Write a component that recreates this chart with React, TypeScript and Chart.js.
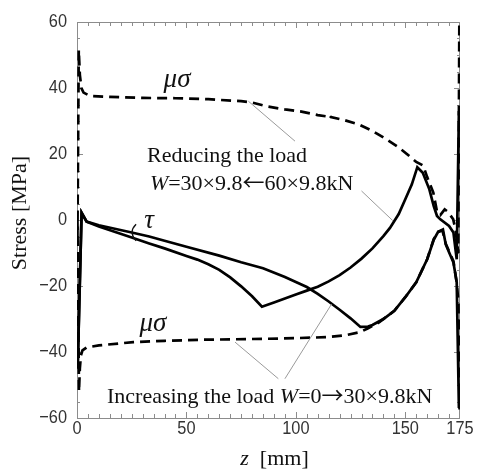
import React, { useEffect, useRef } from "react";
import { Chart, registerables } from "chart.js";

Chart.register(...registerables);

// ---------- data ----------
const xTickValues = [0, 50, 100, 150, 175];
const yTickValues = [-60, -40, -20, 0, 20, 40, 60];

// tau, reducing the load W = 30x9.8 <- 60x9.8 kN
const zTauReduce = [0.3, 2.1, 4.4, 10, 25, 33, 40, 50, 55, 60, 65, 70, 75, 80, 84.5, 90, 95, 100, 105, 110, 115, 120, 125, 130, 135, 140, 143, 147, 150, 153, 155.5, 158, 161, 163, 164.5, 166, 170, 172, 173.5, 174.5];
const tauReduce = [-45, 2.2, -0.5, -2, -5.3, -7.1, -8.6, -10.9, -12.0, -13.4, -15.1, -17.4, -20.1, -23.1, -26.3, -25.0, -23.8, -22.6, -21.4, -20.2, -18.6, -16.7, -14.4, -11.7, -8.6, -4.9, -2.4, 1.8, 6.3, 10.8, 16.0, 14.3, 9.3, 4.2, 1.2, 0.2, -1.8, -3.8, -11.9, 33];

// tau, increasing the load W = 0 -> 30x9.8 kN
const zTauIncrease = [0.3, 2.1, 4.4, 10, 25, 33, 40, 50, 65, 75, 85, 95, 100, 105, 110, 115, 120, 125, 129.5, 133, 135, 140, 145, 150, 155, 160, 163, 165, 167.2, 168.5, 170, 172, 173.5, 174.5];
const tauIncrease = [-45, 2.2, -0.5, -1.6, -3.8, -5.0, -6.3, -8.1, -10.8, -12.8, -14.6, -17.3, -18.8, -20.3, -22.4, -24.7, -27.2, -29.8, -32.4, -32.3, -31.8, -30.0, -27.5, -23.4, -18.9, -11.9, -6.0, -3.6, -2.9, -7.4, -9.8, -12.9, -18.9, -57];

// mu*sigma, upper branch
const zMuUpper = [0.2, 0.8, 1.3, 2, 3, 6, 15, 30, 45, 60, 75, 80, 87, 95, 102, 110, 114, 115, 116, 122, 129, 135, 141.5, 147, 152, 155, 158.2, 160, 162.8, 164.6, 166, 168, 169.5, 171.9, 173, 174.2, 174.7];
const muUpper = [-5, 51.5, 44, 40, 38.6, 37.6, 37.3, 37.0, 36.9, 36.6, 36.0, 35.6, 34.4, 33.5, 32.9, 31.8, 31.4, 32.0, 31.2, 30.3, 28.9, 27.0, 24.4, 22.0, 19.3, 17.6, 16.5, 13.0, 8.3, 2.2, 1.5, 3.2, 2.5, 0.2, -3, -10, 60];

// mu*sigma, lower branch
const zMuLower = [0.2, 0.9, 1.3, 1.8, 2.5, 4.4, 10, 25.7, 40, 56, 86.6, 100, 114, 122, 129.3, 133, 138, 145, 150, 155, 160, 163, 165, 167, 168.5, 170, 172, 173.5, 174.3, 174.8];
const muLower = [0, -52, -45, -41, -39.5, -38.6, -38, -37, -36.6, -36.3, -36, -35.8, -35.5, -35, -34, -32.8, -31, -27.5, -23.4, -18.9, -11.9, -5.8, -3.6, -3.2, -7.2, -9.5, -12.5, -19, -25, -58];

const toPts = (xs: number[], ys: number[]) => xs.map((x, i) => ({ x, y: ys[i] }));

type Seg = [string, "n" | "i" | "a"];

const SERIF = "'Liberation Serif', 'Times New Roman', serif";
const ARROW = "'Noto Sans CJK JP', 'DejaVu Sans', sans-serif";
const SANS = "'Liberation Sans', Arial, sans-serif";

function segFont(style: string, size: number) {
  if (style === "i") return `italic ${size}px ${SERIF}`;
  if (style === "a") return `${size}px ${ARROW}`;
  return `${size}px ${SERIF}`;
}
function drawRich(ctx: CanvasRenderingContext2D, segs: Seg[], x: number, y: number, size: number) {
  let cx = x;
  for (const [t, st] of segs) {
    ctx.font = segFont(st, size);
    ctx.fillText(t, cx, y);
    cx += ctx.measureText(t).width;
  }
}
function richWidth(ctx: CanvasRenderingContext2D, segs: Seg[], size: number) {
  let w = 0;
  for (const [t, st] of segs) {
    ctx.font = segFont(st, size);
    w += ctx.measureText(t).width;
  }
  return w;
}
const fmt = (v: number) => (v < 0 ? "−" + Math.abs(v) : String(v));

const decorPlugin = {
  id: "decor",
  beforeDatasetsDraw(chart: any) {
    const { ctx, chartArea: a, scales } = chart;
    const xs = scales.x, ys = scales.y;
    ctx.save();
    ctx.strokeStyle = "#8c8c8c";
    ctx.lineWidth = 1;
    ctx.strokeRect(a.left + 0.5, a.top + 0.5, a.right - a.left - 1, a.bottom - a.top);
    ctx.beginPath();
    for (let v = 5; v < 175; v += 5) {
      const px = Math.round(xs.getPixelForValue(v)) + 0.5;
      const len = v % 50 === 0 ? 6 : 4;
      ctx.moveTo(px, a.top); ctx.lineTo(px, a.top + len);
      ctx.moveTo(px, a.bottom); ctx.lineTo(px, a.bottom - len);
    }
    for (let v = -55; v < 60; v += 5) {
      const py = Math.round(ys.getPixelForValue(v)) + 0.5;
      const len = v % 20 === 0 ? 6 : 3;
      ctx.moveTo(a.left, py); ctx.lineTo(a.left + len, py);
      ctx.moveTo(a.right, py); ctx.lineTo(a.right - len, py);
    }
    ctx.stroke();
    ctx.restore();

    // tick labels (condensed sans)
    ctx.save();
    ctx.fillStyle = "#333";
    ctx.font = `19px ${SANS}`;
    ctx.textBaseline = "middle";
    for (const v of yTickValues) {
      ctx.save();
      ctx.translate(a.left - 10, ys.getPixelForValue(v));
      ctx.scale(0.86, 1);
      ctx.textAlign = "right";
      ctx.fillText(fmt(v), 0, 0);
      ctx.restore();
    }
    for (const v of xTickValues) {
      ctx.save();
      ctx.translate(xs.getPixelForValue(v), a.bottom + 11);
      ctx.scale(0.86, 1);
      ctx.textAlign = "center";
      ctx.fillText(fmt(v), 0, 0);
      ctx.restore();
    }
    ctx.restore();
  },
  afterDatasetsDraw(chart: any) {
    const { ctx, chartArea: a, scales } = chart;
    const X = (v: number) => scales.x.getPixelForValue(v);
    const Y = (v: number) => scales.y.getPixelForValue(v);
    ctx.save();
    // leader lines
    ctx.strokeStyle = "#9a9a9a";
    ctx.lineWidth = 1;
    ctx.beginPath();
    ctx.moveTo(X(78.3), Y(36)); ctx.lineTo(X(99.6), Y(23.9));
    ctx.moveTo(X(130), Y(8.8)); ctx.lineTo(X(144.3), Y(-0.2));
    ctx.moveTo(X(72.2), Y(-37)); ctx.lineTo(X(92), Y(-48.1));
    ctx.moveTo(X(95), Y(-48.1)); ctx.lineTo(X(116.3), Y(-25.5));
    ctx.stroke();
    // small arc marking tau
    ctx.strokeStyle = "#111";
    ctx.lineWidth = 1.3;
    ctx.beginPath();
    ctx.moveTo(X(27), Y(-1.3));
    ctx.quadraticCurveTo(X(23.3), Y(-3.7), X(27), Y(-6.3));
    ctx.stroke();

    ctx.fillStyle = "#111";
    // greek labels
    ctx.font = `italic 27px ${SERIF}`;
    ctx.textAlign = "center";
    ctx.textBaseline = "middle";
    ctx.fillText("μσ", X(45.7), Y(42.5));
    ctx.fillText("μσ", X(34.7), Y(-31.5));
    ctx.fillText("τ", X(32.9), Y(-0.3));
    ctx.textAlign = "left";
    ctx.textBaseline = "alphabetic";
    // annotations
    drawRich(ctx, [["Reducing the load", "n"]], X(32), Y(17.5), 22);
    drawRich(ctx, [["W", "i"], ["=30×9.8", "n"], ["←", "a"], ["60×9.8kN", "n"]], X(33.3), Y(9), 22);
    drawRich(ctx, [["Increasing the load ", "n"], ["W", "i"], ["=0", "n"], ["→", "a"], ["30×9.8kN", "n"]], X(13.7), Y(-55.4), 22);

    // axis titles
    const xt: Seg[] = [["z", "i"], ["  [mm]", "n"]];
    const w = richWidth(ctx, xt, 22);
    drawRich(ctx, xt, (a.left + a.right) / 2 + 6 - w / 2, a.bottom + 47, 22);

    ctx.save();
    ctx.translate(a.left - 57, (a.top + a.bottom) / 2 - 7);
    ctx.rotate(-Math.PI / 2);
    ctx.font = `22px ${SERIF}`;
    ctx.textAlign = "center";
    ctx.textBaseline = "middle";
    ctx.fillText("Stress [MPa]", 0, 0);
    ctx.restore();
    ctx.restore();
  },
};

export default function App() {
  const ref = useRef<HTMLCanvasElement | null>(null);
  useEffect(() => {
    document.body.style.margin = "0";
    const canvas = ref.current!;
    const solid = { borderColor: "#000", borderWidth: 2.7, pointRadius: 0, showLine: true, fill: false, tension: 0 };
    const dashed = { ...solid, borderDash: [10, 6], borderWidth: 2.7 };
    const chart = new Chart(canvas, {
      type: "scatter",
      data: {
        datasets: [
          { label: "tau reduce", data: toPts(zTauReduce, tauReduce), ...solid },
          { label: "tau increase", data: toPts(zTauIncrease, tauIncrease), ...solid },
          { label: "mu sigma upper", data: toPts(zMuUpper, muUpper), ...dashed },
          { label: "mu sigma lower", data: toPts(zMuLower, muLower), ...dashed },
        ] as any,
      },
      options: {
        animation: false,
        responsive: false,
        devicePixelRatio: 1,
        layout: { padding: { top: 22, right: 27, left: 0, bottom: 0 } },
        plugins: { legend: { display: false }, tooltip: { enabled: false } },
        scales: {
          x: {
            type: "linear",
            min: 0,
            max: 175,
            grid: { display: false, drawTicks: false },
            border: { display: false },
            afterBuildTicks: (s: any) => { s.ticks = xTickValues.map((v) => ({ value: v })); },
            afterFit: (s: any) => { s.height = 54; },
            ticks: { display: false },
          },
          y: {
            type: "linear",
            min: -60,
            max: 60,
            grid: { display: false, drawTicks: false },
            border: { display: false },
            afterBuildTicks: (s: any) => { s.ticks = yTickValues.map((v) => ({ value: v })); },
            afterFit: (s: any) => { s.width = 77; },
            ticks: { display: false },
          },
        },
      },
      plugins: [decorPlugin],
    });
    return () => chart.destroy();
  }, []);
  return (
    <div style={{ position: "absolute", left: 0, top: 0, width: 487, height: 472, background: "#fff" }}>
      <canvas ref={ref} width={487} height={472} />
    </div>
  );
}
